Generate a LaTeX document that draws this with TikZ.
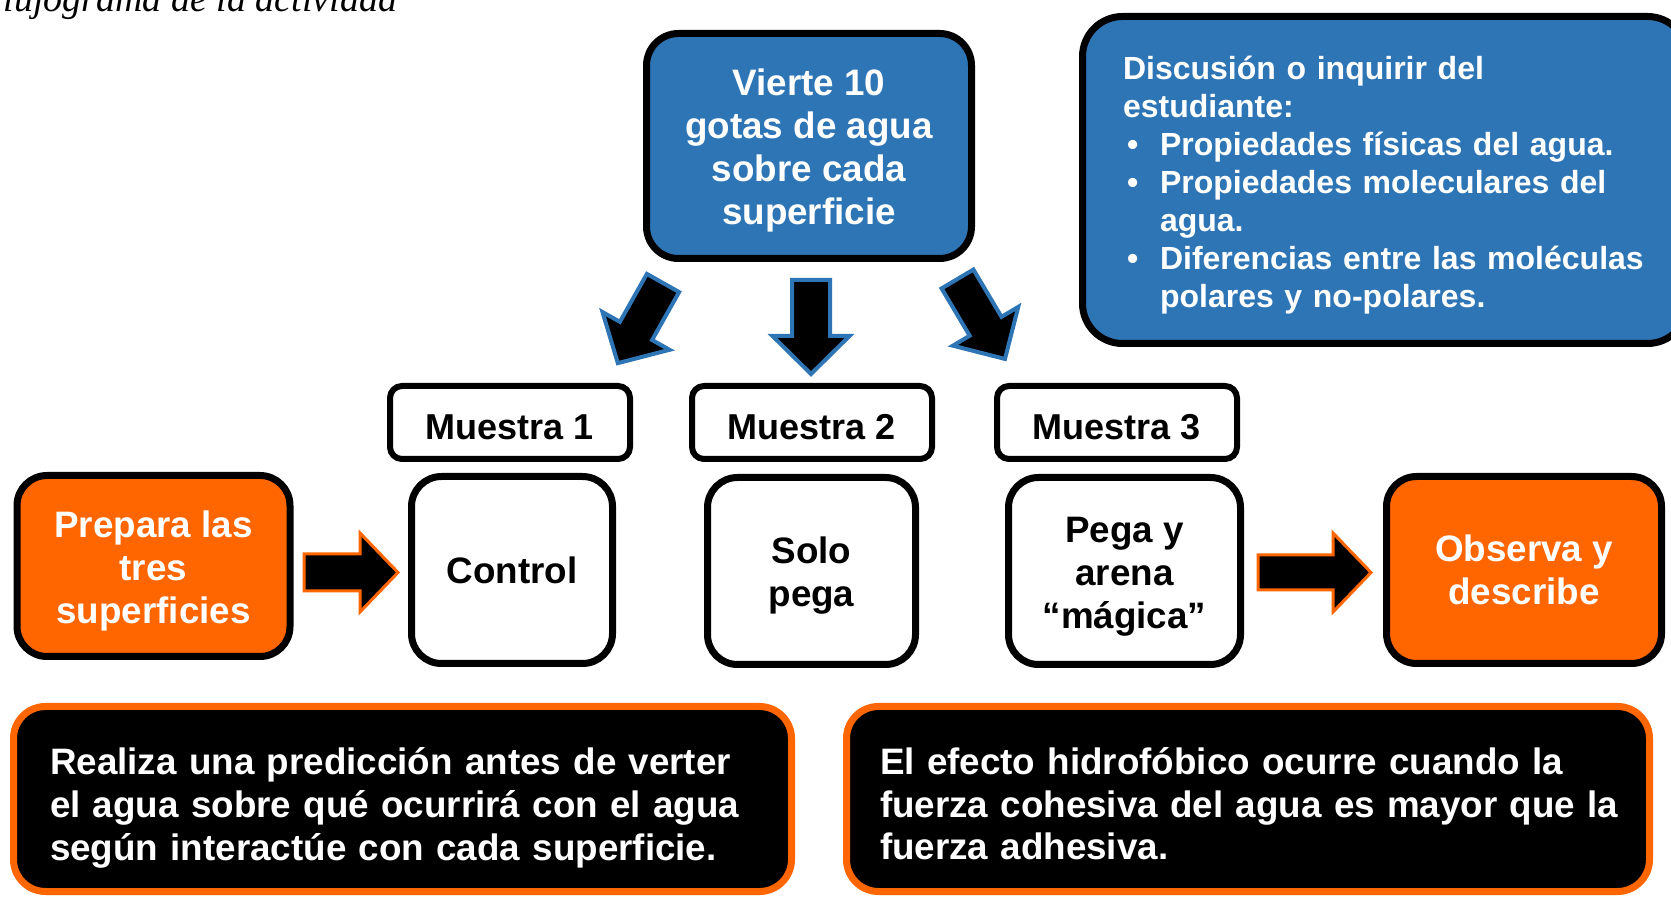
\documentclass[tikz,border=0pt]{standalone}
\usepackage{fontspec}
\setmainfont{Liberation Sans}
\newfontfamily\capfont{Liberation Serif}
\definecolor{ablue}{RGB}{46,117,182}
\definecolor{aorange}{RGB}{255,102,0}
% invisible strut used to place the text block vertically in its box
\newcommand{\tsh}[2][0pt]{\rule[#1]{0pt}{#2}}
% block arrow: #1 style, #2 tail point, #3 angle, #4 length, #5 shaft width, #6 head width, #7 head length
\newcommand{\blkarrow}[7]{\draw[#1, shift={#2}, rotate=#3] (0,-#5/2) -- (#4-#7,-#5/2) -- (#4-#7,-#6/2) -- (#4,0) -- (#4-#7,#6/2) -- (#4-#7,#5/2) -- (0,#5/2) -- cycle;}
\begin{document}
\begin{tikzpicture}[x=0.5pt,y=-0.5pt,
  bigtxt/.style={font=\fontsize{18.4}{21.5}\selectfont\bfseries},
  bluebox/.style={draw=black, line width=3.5pt, fill=ablue, text=white, rounded corners=16pt, align=center, inner sep=0pt},
  orgbox/.style={draw=black, line width=3.5pt, fill=aorange, text=white, rounded corners=15pt, align=center, inner sep=0pt, bigtxt},
  whitebox/.style={draw=black, line width=3.5pt, fill=white, rounded corners=15pt, align=center, inner sep=0pt, bigtxt},
  labelbox/.style={draw=black, line width=3pt, fill=white, rounded corners=6pt, align=center, inner sep=0pt, font=\fontsize{18}{21}\selectfont\bfseries, minimum width=120pt, minimum height=36.5pt},
  notebox/.style={draw=aorange, line width=3.5pt, fill=black, text=white, rounded corners=16pt, align=left, inner ysep=0pt, minimum height=92.5pt, bigtxt},
  bluearrow/.style={fill=black, draw=ablue, line width=2pt},
  orgarrow/.style={fill=black, draw=aorange, line width=1.5pt}]
\useasboundingbox (0,0) rectangle (1671,897);
\clip (0,0) rectangle (1671,897);

\node[anchor=base west, inner sep=0pt, font=\capfont\itshape\fontsize{19}{22}\selectfont] (cap) at (-20,12) {Flujograma de la actividad};

\node[bluebox, bigtxt, minimum width=162.5pt, minimum height=112.5pt] (vierte) at (809,146) {\tsh{17.5pt}Vierte 10\\gotas de agua\\sobre cada\\superficie};

\node[bluebox, rounded corners=20pt, align=left, minimum width=302.5pt, minimum height=163.5pt, text width=262pt, inner xsep=20.25pt, inner ysep=0pt, font=\fontsize{16}{19}\selectfont\bfseries] (disc) at (1385,180) {\tsh{16.4pt}Discusión o inquirir del\\estudiante:\\\hspace*{2pt}\makebox[16.5pt][l]{•}Propiedades físicas del agua.\\\hspace*{2pt}\makebox[16.5pt][l]{•}Propiedades moleculares del\\\hspace*{18.5pt}agua.\\\hspace*{2pt}\makebox[16.5pt][l]{•}Diferencias entre las moléculas\\\hspace*{18.5pt}polares y no-polares.};

\node[labelbox] (m1) at (510,422.5) {\tsh{17.3pt}Muestra 1};
\node[labelbox] (m2) at (812,422.5) {\tsh{17.3pt}Muestra 2};
\node[labelbox] (m3) at (1117,422.5) {\tsh{17.3pt}Muestra 3};

\node[orgbox, minimum width=136.5pt, minimum height=90.5pt] (prep) at (153.5,566) {\tsh{18.3pt}Prepara las\\tres\\superficies};
\node[whitebox, minimum width=100.5pt, minimum height=93.5pt] (ctrl) at (512,570) {Control};
\node[whitebox, minimum width=104pt, minimum height=93.5pt] (solo) at (811.5,571) {\tsh{18.3pt}Solo\\pega};
\node[whitebox, minimum width=116pt, minimum height=93.5pt] (pegay) at (1124.5,571) {\tsh{18.3pt}Pega y\\arena\\“mágica”};
\node[orgbox, minimum width=137.5pt, minimum height=93.5pt] (obs) at (1524,570) {Observa y\\describe};

\node[notebox, minimum width=389pt, text width=352.5pt, inner xsep=18.25pt] (pred) at (402.5,799) {\tsh{22pt}\mbox{Realiza una predicción antes de verter}\\\mbox{el agua sobre qué ocurrirá con el agua}\\\mbox{según interactúe con cada superficie.}};
\node[notebox, minimum width=401.5pt, text width=368pt, inner xsep=16.75pt] (hidro) at (1248,799) {\tsh{22pt}\mbox{El efecto hidrofóbico ocurre cuando la}\\\mbox{fuerza cohesiva del agua es mayor que la}\\\mbox{fuerza adhesiva.}\tsh[-4pt]{0pt}};

\blkarrow{bluearrow}{(663,283)}{-119.4}{92}{37}{77}{37}
\blkarrow{bluearrow}{(811,280)}{-90}{94}{38}{77}{38}
\blkarrow{bluearrow}{(957.5,279)}{-59.3}{93}{37}{76}{38}
\blkarrow{orgarrow}{(304,572.5)}{0}{94}{37}{79}{38}
\blkarrow{orgarrow}{(1258,572.5)}{0}{113}{35}{79}{38}
\end{tikzpicture}
\end{document}
